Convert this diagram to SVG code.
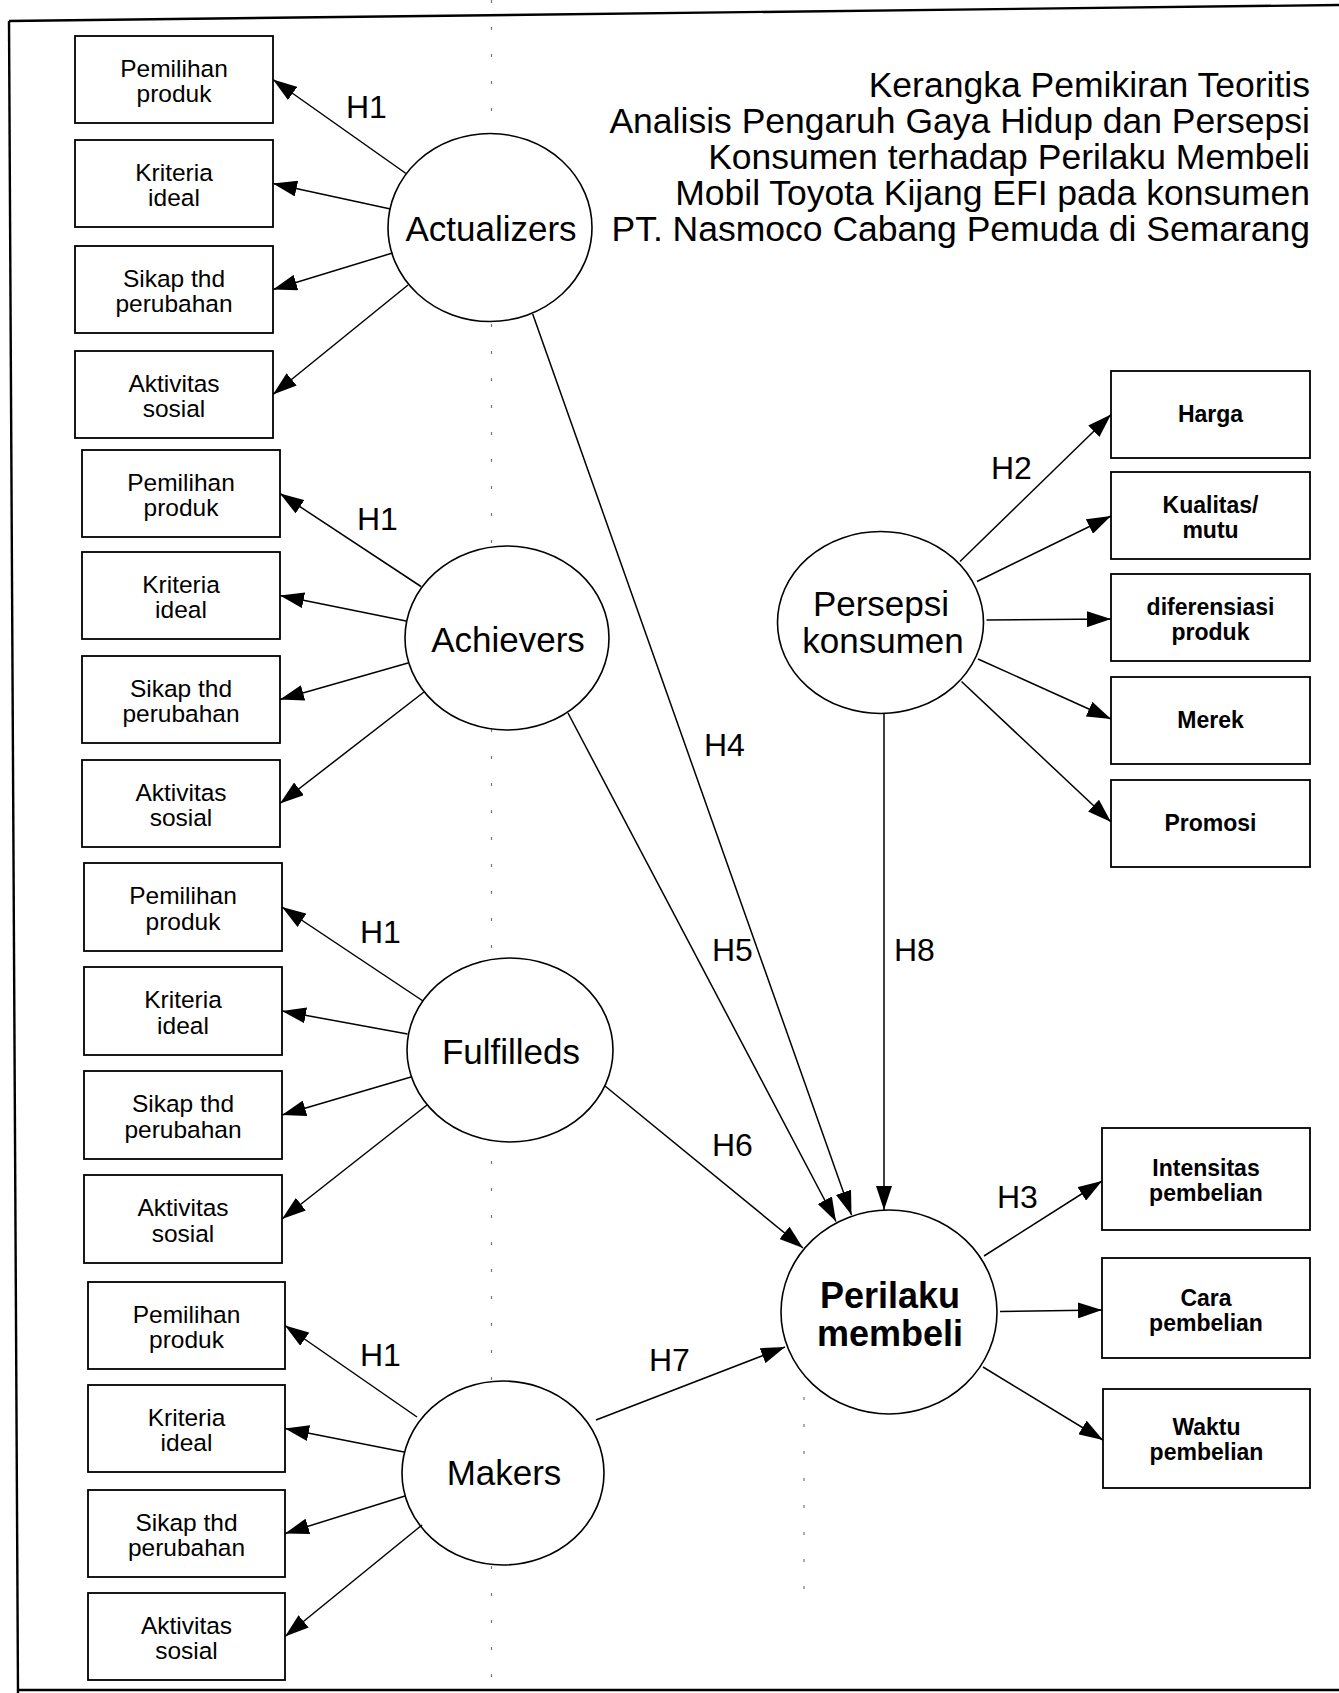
<svg xmlns="http://www.w3.org/2000/svg" width="1339" height="1693" viewBox="0 0 1339 1693">
<style>
text { font-family: "Liberation Sans", Arial, Helvetica, sans-serif; fill: #000; }
.box { fill: #fff; stroke: #000; stroke-width: 1.8; }
.ell { fill: #fff; stroke: #000; stroke-width: 1.6; }
.bt { font-size: 24.5px; text-anchor: middle; }
.rt { font-size: 23px; font-weight: bold; text-anchor: middle; }
.nt { font-size: 35px; text-anchor: middle; }
.nb { font-size: 36px; font-weight: bold; text-anchor: middle; }
.hl { font-size: 32px; }
.tt { font-size: 35.5px; text-anchor: end; }
.frame { stroke: #000; stroke-width: 2.4; fill: none; }
.fold { stroke: #777; stroke-width: 1.2; stroke-dasharray: 3 24; fill: none; }
#connectors line { stroke: #000; stroke-width: 1.5; marker-end: url(#ah); }
</style>
<defs>
<marker id="ah" viewBox="0 0 24 16" refX="24" refY="8" markerWidth="24" markerHeight="16" markerUnits="userSpaceOnUse" orient="auto">
<path d="M0,0 L24,8 L0,16 z" fill="#000"/>
</marker>
</defs>
<rect x="0" y="0" width="1339" height="1693" fill="#fff"/>

<g id="frame">
<line class="fold" x1="491.5" y1="0" x2="491.5" y2="1693"/>
<line class="fold" x1="804" y1="1370" x2="804" y2="1600"/>
<line class="frame" x1="9" y1="21" x2="1339" y2="5"/>
<line class="frame" x1="9" y1="21" x2="18" y2="1693"/>
<line class="frame" x1="18" y1="1690" x2="1339" y2="1690"/>
</g>

<g id="title">
<text class="tt" x="1310" y="97">Kerangka Pemikiran Teoritis</text>
<text class="tt" x="1310" y="133">Analisis Pengaruh Gaya Hidup dan Persepsi</text>
<text class="tt" x="1310" y="169">Konsumen terhadap Perilaku Membeli</text>
<text class="tt" x="1310" y="205">Mobil Toyota Kijang EFI pada konsumen</text>
<text class="tt" x="1310" y="241">PT. Nasmoco Cabang Pemuda di Semarang</text>
</g>

<!-- Group 1 indicators -->
<g id="g1-pemilihan"><rect class="box" x="75" y="36" width="198" height="87"/><text class="bt" x="174" y="76.5">Pemilihan</text><text class="bt" x="174" y="102">produk</text></g>
<g id="g1-kriteria"><rect class="box" x="75" y="140" width="198" height="87"/><text class="bt" x="174" y="180.5">Kriteria</text><text class="bt" x="174" y="206">ideal</text></g>
<g id="g1-sikap"><rect class="box" x="75" y="246" width="198" height="87"/><text class="bt" x="174" y="286.5">Sikap thd</text><text class="bt" x="174" y="312">perubahan</text></g>
<g id="g1-aktivitas"><rect class="box" x="75" y="351" width="198" height="87"/><text class="bt" x="174" y="391.5">Aktivitas</text><text class="bt" x="174" y="417">sosial</text></g>

<!-- Group 2 indicators -->
<g id="g2-pemilihan"><rect class="box" x="82" y="450" width="198" height="87"/><text class="bt" x="181" y="490.5">Pemilihan</text><text class="bt" x="181" y="516">produk</text></g>
<g id="g2-kriteria"><rect class="box" x="82" y="552" width="198" height="87"/><text class="bt" x="181" y="592.5">Kriteria</text><text class="bt" x="181" y="618">ideal</text></g>
<g id="g2-sikap"><rect class="box" x="82" y="656" width="198" height="87"/><text class="bt" x="181" y="696.5">Sikap thd</text><text class="bt" x="181" y="722">perubahan</text></g>
<g id="g2-aktivitas"><rect class="box" x="82" y="760" width="198" height="87"/><text class="bt" x="181" y="800.5">Aktivitas</text><text class="bt" x="181" y="826">sosial</text></g>

<!-- Group 3 indicators -->
<g id="g3-pemilihan"><rect class="box" x="84" y="863" width="198" height="88"/><text class="bt" x="183" y="904">Pemilihan</text><text class="bt" x="183" y="929.5">produk</text></g>
<g id="g3-kriteria"><rect class="box" x="84" y="967" width="198" height="88"/><text class="bt" x="183" y="1008">Kriteria</text><text class="bt" x="183" y="1033.5">ideal</text></g>
<g id="g3-sikap"><rect class="box" x="84" y="1071" width="198" height="88"/><text class="bt" x="183" y="1112">Sikap thd</text><text class="bt" x="183" y="1137.5">perubahan</text></g>
<g id="g3-aktivitas"><rect class="box" x="84" y="1175" width="198" height="88"/><text class="bt" x="183" y="1216">Aktivitas</text><text class="bt" x="183" y="1241.5">sosial</text></g>

<!-- Group 4 indicators -->
<g id="g4-pemilihan"><rect class="box" x="88" y="1282" width="197" height="87"/><text class="bt" x="186.5" y="1322.5">Pemilihan</text><text class="bt" x="186.5" y="1348">produk</text></g>
<g id="g4-kriteria"><rect class="box" x="88" y="1385" width="197" height="87"/><text class="bt" x="186.5" y="1425.5">Kriteria</text><text class="bt" x="186.5" y="1451">ideal</text></g>
<g id="g4-sikap"><rect class="box" x="88" y="1490" width="197" height="87"/><text class="bt" x="186.5" y="1530.5">Sikap thd</text><text class="bt" x="186.5" y="1556">perubahan</text></g>
<g id="g4-aktivitas"><rect class="box" x="88" y="1593" width="197" height="87"/><text class="bt" x="186.5" y="1633.5">Aktivitas</text><text class="bt" x="186.5" y="1659">sosial</text></g>

<!-- Latent variables -->
<g id="actualizers"><ellipse class="ell" cx="490" cy="227.5" rx="102" ry="94"/><text class="nt" x="491" y="241">Actualizers</text></g>
<g id="achievers"><ellipse class="ell" cx="507" cy="638" rx="102" ry="92"/><text class="nt" x="508" y="652">Achievers</text></g>
<g id="fulfilleds"><ellipse class="ell" cx="510" cy="1050" rx="103" ry="92"/><text class="nt" x="511" y="1064">Fulfilleds</text></g>
<g id="makers"><ellipse class="ell" cx="503" cy="1473" rx="101" ry="92"/><text class="nt" x="504" y="1485">Makers</text></g>
<g id="persepsi"><ellipse class="ell" cx="880.5" cy="622.5" rx="103" ry="91"/><text class="nt" x="881" y="616">Persepsi</text><text class="nt" x="883" y="652.5">konsumen</text></g>
<g id="perilaku"><ellipse class="ell" cx="889" cy="1312" rx="108" ry="102"/><text class="nb" x="890" y="1308">Perilaku</text><text class="nb" x="890" y="1345.5">membeli</text></g>

<!-- Persepsi indicators -->
<g id="harga"><rect class="box" x="1111" y="371" width="199" height="87"/><text class="rt" x="1210.5" y="422">Harga</text></g>
<g id="kualitas"><rect class="box" x="1111" y="472" width="199" height="87"/><text class="rt" x="1210.5" y="513">Kualitas/</text><text class="rt" x="1210.5" y="538">mutu</text></g>
<g id="diferensiasi"><rect class="box" x="1111" y="574" width="199" height="87"/><text class="rt" x="1210.5" y="615">diferensiasi</text><text class="rt" x="1210.5" y="640">produk</text></g>
<g id="merek"><rect class="box" x="1111" y="677" width="199" height="87"/><text class="rt" x="1210.5" y="728">Merek</text></g>
<g id="promosi"><rect class="box" x="1111" y="780" width="199" height="87"/><text class="rt" x="1210.5" y="831">Promosi</text></g>

<!-- Perilaku indicators -->
<g id="intensitas"><rect class="box" x="1102" y="1128" width="208" height="102"/><text class="rt" x="1206" y="1176">Intensitas</text><text class="rt" x="1206" y="1201">pembelian</text></g>
<g id="cara"><rect class="box" x="1102" y="1258" width="208" height="100"/><text class="rt" x="1206" y="1305.5">Cara</text><text class="rt" x="1206" y="1330.5">pembelian</text></g>
<g id="waktu"><rect class="box" x="1103" y="1389" width="207" height="99"/><text class="rt" x="1206.5" y="1434.5">Waktu</text><text class="rt" x="1206.5" y="1459.5">pembelian</text></g>

<g id="connectors">
<!-- Actualizers -->
<line x1="406" y1="173.5" x2="273" y2="79.5"/>
<line x1="390.5" y1="209" x2="273" y2="183.5"/>
<line x1="392.5" y1="253" x2="273" y2="289.5"/>
<line x1="408" y1="285" x2="273" y2="394.5"/>
<!-- Achievers -->
<line x1="421" y1="586.5" x2="280" y2="493.5"/>
<line x1="406" y1="621" x2="280" y2="595.5"/>
<line x1="408" y1="663" x2="280" y2="699.5"/>
<line x1="424" y1="692" x2="280" y2="803.5"/>
<!-- Fulfilleds -->
<line x1="423" y1="1001" x2="282" y2="907"/>
<line x1="407.5" y1="1034" x2="282" y2="1011"/>
<line x1="411" y1="1077" x2="282" y2="1115"/>
<line x1="427" y1="1105" x2="282" y2="1219"/>
<!-- Makers -->
<line x1="417" y1="1417" x2="285" y2="1325.5"/>
<line x1="404" y1="1452" x2="285" y2="1428.5"/>
<line x1="405" y1="1496" x2="285" y2="1533.5"/>
<line x1="422" y1="1525" x2="285" y2="1636.5"/>
<!-- Persepsi -->
<line x1="960" y1="561.5" x2="1111" y2="414.5"/>
<line x1="977" y1="581.5" x2="1111" y2="516"/>
<line x1="986.5" y1="620" x2="1111" y2="619"/>
<line x1="978" y1="659" x2="1111" y2="719"/>
<line x1="961.5" y1="681.5" x2="1111" y2="822"/>
<!-- Paths to Perilaku membeli -->
<line x1="532.7" y1="314" x2="851.5" y2="1215"/>
<line x1="568" y1="713" x2="836" y2="1221.5"/>
<line x1="605" y1="1086" x2="803" y2="1248"/>
<line x1="596" y1="1420" x2="785" y2="1347"/>
<line x1="884" y1="713.5" x2="884" y2="1210"/>
<!-- Perilaku indicators -->
<line x1="984" y1="1256" x2="1102" y2="1181"/>
<line x1="1000" y1="1311.5" x2="1102" y2="1310"/>
<line x1="983" y1="1367" x2="1103" y2="1440"/>
<!-- hypothesis labels -->
<text class="hl" x="346" y="118">H1</text>
<text class="hl" x="357" y="530">H1</text>
<text class="hl" x="360" y="943">H1</text>
<text class="hl" x="360" y="1366">H1</text>
<text class="hl" x="991" y="479">H2</text>
<text class="hl" x="997" y="1208">H3</text>
<text class="hl" x="704" y="756">H4</text>
<text class="hl" x="712" y="961">H5</text>
<text class="hl" x="712" y="1156">H6</text>
<text class="hl" x="649" y="1371">H7</text>
<text class="hl" x="894" y="961">H8</text>
</g>
</svg>
